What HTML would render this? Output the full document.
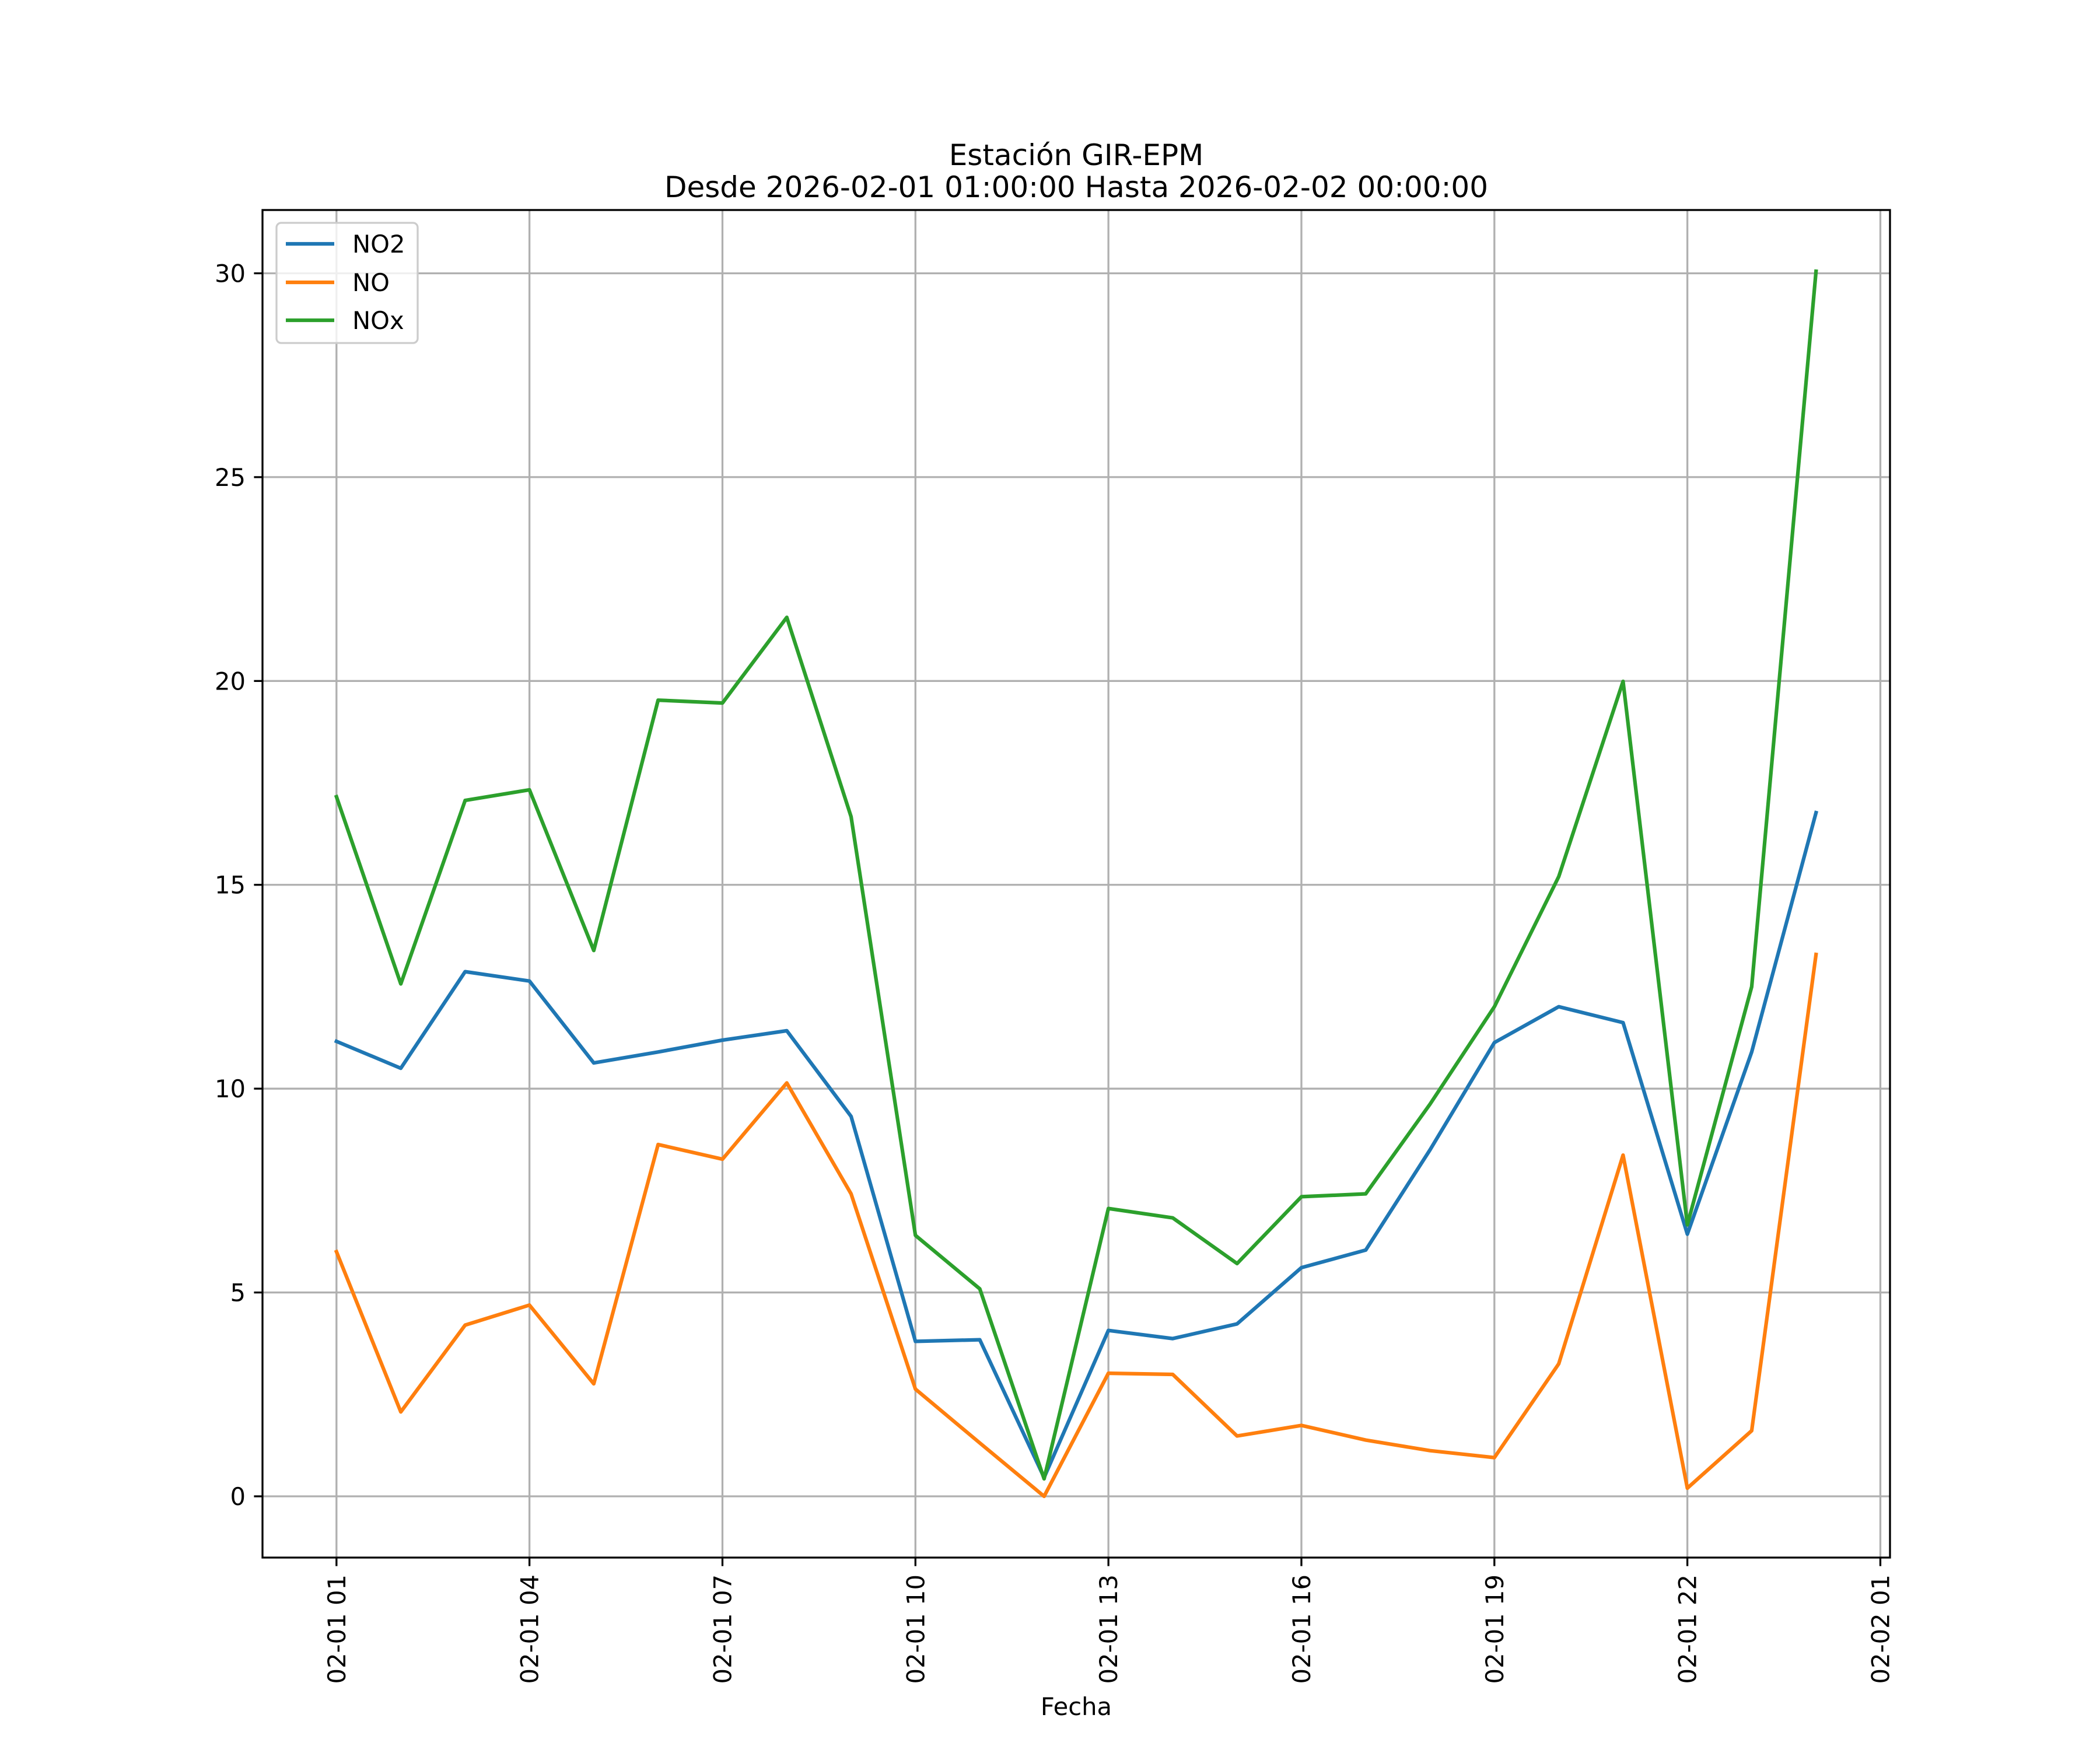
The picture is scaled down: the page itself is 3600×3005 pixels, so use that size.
<!DOCTYPE html>
<html><head><meta charset="utf-8"><style>
html,body{margin:0;padding:0;background:#fff;}
svg text{font-family:"DejaVu Sans","Liberation Sans",sans-serif;fill:#000;}
</style></head><body>
<svg id="chart" width="3600" height="3000" xmlns="http://www.w3.org/2000/svg">
<rect width="3600" height="3000" fill="#fff"/>
<g id="grid"></g>
<g id="series"></g>
<rect x="450" y="360" width="2790" height="2310" fill="none" stroke="#000" stroke-width="3.3"/>
<g id="ticks"></g>
<text x="1845" y="283" font-size="50" text-anchor="middle">Estación GIR-EPM</text>
<text x="1845" y="338" font-size="50" text-anchor="middle">Desde 2026-02-01 01:00:00 Hasta 2026-02-02 00:00:00</text>
<text x="1845" y="2940" font-size="41.7" text-anchor="middle">Fecha</text>
<g>
<rect x="474" y="382" width="242" height="206" rx="8" fill="#fff" fill-opacity="0.8" stroke="#ccc" stroke-width="3.3"/>
<g><line x1="490" y1="418" x2="573" y2="418" stroke="#1f77b4" stroke-width="6.25"/><text x="604" y="433" font-size="41.7">NO2</text></g>
<g><line x1="490" y1="484" x2="573" y2="484" stroke="#ff7f0e" stroke-width="6.25"/><text x="604" y="499" font-size="41.7">NO</text></g>
<g><line x1="490" y1="549" x2="573" y2="549" stroke="#2ca02c" stroke-width="6.25"/><text x="604" y="564" font-size="41.7">NOx</text></g>
</g>
</svg>
<script>
const hours = [1,2,3,4,5,6,7,8,9,10,11,12,13,14,15,16,17,18,19,20,21,22,23,24];
const no2 = [11.16,10.5,12.87,12.64,10.63,10.9,11.19,11.42,9.32,3.8,3.84,0.46,4.07,3.87,4.23,5.61,6.04,8.5,11.13,12.01,11.62,6.43,10.9,16.77];
const no = [6.0,2.07,4.2,4.69,2.76,8.63,8.27,10.14,7.42,2.63,1.31,0.0,3.02,2.99,1.48,1.74,1.38,1.12,0.95,3.25,8.37,0.2,1.61,13.29];
const nox = [17.16,12.57,17.07,17.33,13.39,19.53,19.46,21.56,16.67,6.4,5.09,0.43,7.06,6.83,5.71,7.35,7.42,9.62,12.01,15.2,19.99,6.66,12.5,30.05];
const xTickHours = [1,4,7,10,13,16,19,22,25];
const xTickLabels = ["02-01 01","02-01 04","02-01 07","02-01 10","02-01 13","02-01 16","02-01 19","02-01 22","02-02 01"];
const yTicks = [0,5,10,15,20,25,30];

const L=450,R=3240,T=360,B=2670;
const xMin=-0.15,xMax=25.15,yMin=-1.5025,yMax=31.5525;
const xs=h=>L+(h-xMin)/(xMax-xMin)*(R-L);
const ys=v=>B-(v-yMin)/(yMax-yMin)*(B-T);
const NS="http://www.w3.org/2000/svg";
function mk(tag,attrs,parent){const e=document.createElementNS(NS,tag);for(const k in attrs)e.setAttribute(k,attrs[k]);parent.appendChild(e);return e;}
const grid=document.getElementById('grid'),ticks=document.getElementById('ticks'),series=document.getElementById('series');
xTickHours.forEach((h,i)=>{
  const x=xs(h);
  const g=mk('line',{x1:x,x2:x,y1:T,y2:B,stroke:'#b0b0b0','stroke-width':3.3},grid);
  
  
  const t=mk('line',{x1:x,x2:x,y1:B,y2:B+14.6,stroke:'#000','stroke-width':3.3},ticks);
  
  
  const tx=mk('text',{x:0,y:0,'font-size':41.7,'text-anchor':'end',transform:`translate(${x+15},${B+29}) rotate(-90)`},ticks);
  tx.textContent=xTickLabels[i];
  
  
});
yTicks.forEach(v=>{
  const y=ys(v);
  const g=mk('line',{x1:L,x2:R,y1:y,y2:y,stroke:'#b0b0b0','stroke-width':3.3},grid);
  
  
  const t=mk('line',{x1:L-14.6,x2:L,y1:y,y2:y,stroke:'#000','stroke-width':3.3},ticks);
  
  
  const tx=mk('text',{x:L-29,y:y+15,'font-size':41.7,'text-anchor':'end'},ticks);
  tx.textContent=String(v);
  
  
});
function drawLine(vals,color,name){
  const pts=vals.map((v,i)=>xs(hours[i]).toFixed(1)+','+ys(v).toFixed(1)).join(' ');
  const p=mk('polyline',{points:pts,fill:'none',stroke:color,'stroke-width':6.25,'stroke-linejoin':'round','stroke-linecap':'square'},series);
  
  
}
drawLine(no2,'#1f77b4','no2-line');
drawLine(no,'#ff7f0e','no-line');
drawLine(nox,'#2ca02c','nox-line');
</script>
</body></html>
